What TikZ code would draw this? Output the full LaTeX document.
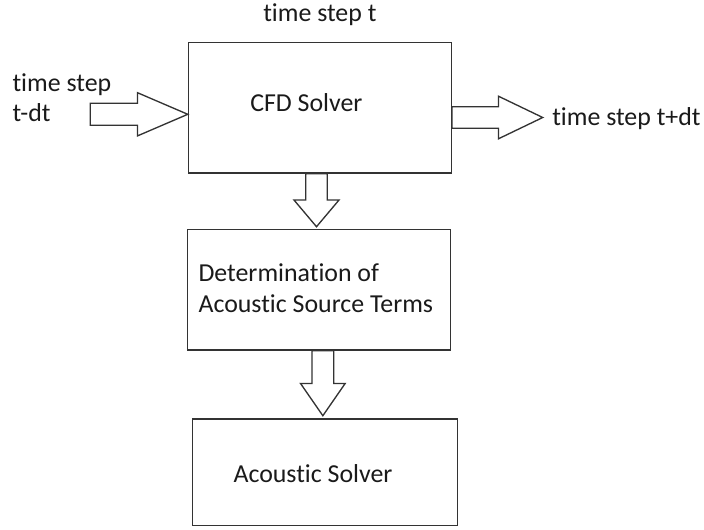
\documentclass[tikz,border=0pt]{standalone}
\usepackage{fontspec}
\setmainfont{Carlito}[Ligatures={NoCommon,NoContextual}]
\usetikzlibrary{calc}
\definecolor{lineclr}{HTML}{333333}
\definecolor{txtclr}{HTML}{1A1A1A}
\begin{document}
\begin{tikzpicture}[x=0.75pt,y=-0.75pt,
  box/.style={draw=lineclr, line width=1.1pt, inner sep=0pt},
  blockarrow/.style={draw=lineclr, line width=1pt, fill=white, line join=miter},
  lbl/.style={inner sep=0pt, anchor=base west, text=txtclr, font=\fontsize{19.4}{22.5}\selectfont}]
\useasboundingbox (0,0) rectangle (704,529);
% boxes
\node[box, minimum width=197.1pt, minimum height=98pt] (cfd) at (319.9,107.65) {};
\node[box, minimum width=197.55pt, minimum height=90.5pt] (det) at (319,289.65) {};
\node[box, minimum width=198.6pt, minimum height=80pt] (aco) at (325.1,472.35) {};
% reference coordinates
\coordinate (lyref) at (0,114.3);
\coordinate (ryref) at (0,117.5);
\coordinate (d1x) at (316.5,0);
\coordinate (d2x) at (322.85,0);
\coordinate (ltip) at (cfd.west |- lyref);
\coordinate (rstart) at (cfd.east |- ryref);
\coordinate (d1s) at (cfd.south -| d1x);
\coordinate (d2s) at (det.south -| d2x);
% block arrows
\draw[blockarrow] (ltip) -- ++(-50.3,-21.6) -- ++(0,10.6) -- ++(-47.3,0) -- ++(0,22) -- ++(47.3,0) -- ++(0,10.6) -- cycle;
\draw[blockarrow] (rstart) ++(0,-10.8) -- ++(46.4,0) -- ++(0,-10.5) -- ++(44.3,21.3) -- ++(-44.3,21.3) -- ++(0,-10.5) -- ++(-46.4,0) -- cycle;
\draw[blockarrow] (d1s) ++(-10.7,0) -- ++(0,26.3) -- ++(-11.8,0) -- ++(22.5,26.7) -- ++(22.5,-26.7) -- ++(-11.8,0) -- ++(0,-26.3) -- cycle;
\draw[blockarrow] (d2s) ++(-10.85,0) -- ++(0,32.7) -- ++(-11.5,0) -- ++(22.35,32.3) -- ++(22.35,-32.3) -- ++(-11.5,0) -- ++(0,-32.7) -- cycle;
% labels
\node[lbl] (tcur) at (263,21.7) {time step t};
\node[lbl] (tprev1) at (12.3,91.7) {time step};
\node[lbl] (tprev2) at (12.3,121.7) {t-dt};
\node[lbl] (cfdtxt) at (250,111) {CFD Solver};
\node[lbl] (tnext) at (552,125) {time step t+dt};
\node[lbl] (dettxt1) at (198.3,281.7) {Determination of};
\node[lbl] (dettxt2) at (198.3,312.3) {Acoustic Source Terms};
\node[lbl] (acotxt) at (233.3,482.7) {Acoustic Solver};
\end{tikzpicture}
\end{document}
